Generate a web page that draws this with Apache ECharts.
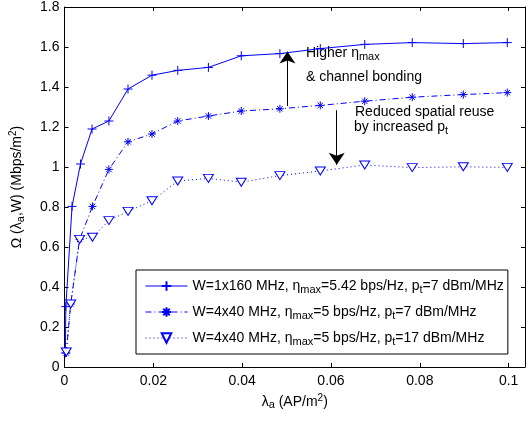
<!DOCTYPE html>
<html><head><meta charset="utf-8">
<script src="https://cdn.jsdelivr.net/npm/echarts@6/dist/echarts.min.js"></script>
<style>html,body{margin:0;padding:0;background:#fff}#c{width:528px;height:422px}</style>
</head><body><div id="c"></div>
<script>
// ---- data ----
const xTicks = [0, 0.02, 0.04, 0.06, 0.08, 0.1];
const yTicks = [0, 0.2, 0.4, 0.6, 0.8, 1, 1.2, 1.4, 1.6, 1.8];
const lambda1 = [0.0002, 0.0003, 0.0017, 0.0036, 0.0062, 0.0100, 0.0143, 0.0197, 0.0255, 0.0324, 0.0398, 0.0485, 0.0576, 0.0676, 0.0783, 0.0898, 0.0997];
const omega1  = [0.070, 0.302, 0.803, 1.015, 1.190, 1.230, 1.390, 1.459, 1.483, 1.498, 1.556, 1.567, 1.592, 1.613, 1.622, 1.617, 1.622];
const lambda23 = [0.0004, 0.0014, 0.0034, 0.0063, 0.0100, 0.0143, 0.0197, 0.0255, 0.0324, 0.0398, 0.0485, 0.0576, 0.0676, 0.0783, 0.0898, 0.0997];
const omega2  = [0.070, 0.315, 0.638, 0.803, 0.988, 1.126, 1.165, 1.230, 1.255, 1.280, 1.291, 1.308, 1.329, 1.349, 1.362, 1.372];
const omega3  = [0.075, 0.315, 0.638, 0.649, 0.732, 0.778, 0.831, 0.930, 0.943, 0.924, 0.957, 0.980, 1.010, 0.997, 1.001, 0.998];
const seriesNames = ['s1', 's2', 's3'];
const legendLabels = {
  s1: 'W=1x160 MHz, η{sub|max}=5.42 bps/Hz, p{sub|t}=7 dBm/MHz',
  s2: 'W=4x40 MHz, η{sub|max}=5 bps/Hz, p{sub|t}=7 dBm/MHz',
  s3: 'W=4x40 MHz, η{sub|max}=5 bps/Hz, p{sub|t}=17 dBm/MHz'
};
const xName = 'λ{sub|a} (AP/m{sup|2})';
const yName = 'Ω (λ{sub|a},W) (Mbps/m{sup|2})';
const note1a = 'Higher η{sub|max}';
const note1b = '& channel bonding';
const note2a = 'Reduced spatial reuse';
const note2b = 'by increased p{sub|t}';
// arrows: [x, yStart, yEnd]
const arrowUp = [0.0502, 1.304, 1.577];
const arrowDown = [0.0613, 1.284, 1.011];

// ---- style ----
const FONT = 'Liberation Sans';
const BLUE = '#0000ff';
const FS = 14;
const rich = {
  sub: {fontSize: 11, fontFamily: FONT, color: '#000', fill: '#000', lineHeight: 17, padding: [7, 0, 0, 0]},
  sup: {fontSize: 10, fontFamily: FONT, color: '#000', fill: '#000', lineHeight: 17, padding: [0, 0, 7, 0]}
};
const plusPath = 'path://M0,5L10,5M5,0L5,10';
const starPath = 'path://M5,0L5,10M0,5L10,5M1.6,1.6L8.4,8.4M8.4,1.6L1.6,8.4';
const near = (v, arr) => arr.some(t => Math.abs(t - v) < 1e-9);
const fmt = v => String(+v.toFixed(2));
const zip = (a, b) => a.map((x, i) => [x, b[i]]);
const GRID_W = 466.6;
const XMAX = GRID_W / 4500;

const axisCommon = {
  axisLine: {onZero: false, lineStyle: {color: '#000', width: 1}},
  axisTick: {inside: true, length: 4, lineStyle: {color: '#000', width: 1}},
  splitLine: {show: false}
};
const nameStyle = {fontSize: FS, fontFamily: FONT, color: '#000', lineHeight: 17, rich: rich};
const labelStyle = {fontSize: FS, fontFamily: FONT, color: '#000'};
const noteStyle = t => ({text: t, fill: '#000', fontSize: FS, fontFamily: FONT, verticalAlign: 'middle', lineHeight: 17, rich: rich});

const chart = echarts.init(document.getElementById('c'), null, {renderer: 'canvas'});
const option = {
  animation: false,
  backgroundColor: '#fff',
  grid: {left: 62, top: 5, width: GRID_W, height: 362, containLabel: false},
  xAxis: [
    Object.assign({type: 'value', min: 0, max: XMAX, interval: 0.02, position: 'bottom',
      axisLabel: Object.assign({margin: 7, formatter: v => near(v, xTicks) ? fmt(v) : ''}, labelStyle),
      name: xName, nameLocation: 'middle', nameGap: 21, nameTextStyle: nameStyle}, axisCommon),
    Object.assign({type: 'value', min: 0, max: XMAX, interval: 0.02, position: 'top',
      axisLabel: {show: false}}, axisCommon)
  ],
  yAxis: [
    Object.assign({type: 'value', min: 0, max: 1.8, interval: 0.2, position: 'left',
      axisLabel: Object.assign({margin: 5, formatter: v => near(v, yTicks) ? fmt(v) : ''}, labelStyle),
      name: yName, nameLocation: 'middle', nameRotate: 90, nameGap: 39, nameTextStyle: nameStyle}, axisCommon),
    Object.assign({type: 'value', min: 0, max: 1.8, interval: 0.2, position: 'right',
      axisLabel: {show: false}}, axisCommon)
  ],
  legend: {
    orient: 'vertical', left: 136, top: 270,
    padding: [7, 4, 7, 9], itemGap: 8, itemWidth: 42, itemHeight: 12,
    backgroundColor: '#fff', borderColor: '#000', borderWidth: 1, borderRadius: 0,
    data: seriesNames,
    formatter: n => legendLabels[n],
    lineStyle: {width: 1},
    textStyle: {fontSize: FS, fontFamily: FONT, color: '#000', lineHeight: 17, rich: rich}
  },
  series: [
    {name: seriesNames[0], type: 'line', data: zip(lambda1, omega1),
      symbol: plusPath, symbolSize: 9,
      lineStyle: {color: BLUE, width: 1, type: 'solid'},
      itemStyle: {color: BLUE, borderColor: BLUE, borderWidth: 1},
      markLine: {silent: true, symbol: ['none', 'arrow'], symbolSize: 12,
        lineStyle: {color: '#000', width: 1, type: 'solid'}, label: {show: false},
        data: [
          [{coord: [arrowUp[0], arrowUp[1]]}, {coord: [arrowUp[0], arrowUp[2]]}],
          [{coord: [arrowDown[0], arrowDown[1]]}, {coord: [arrowDown[0], arrowDown[2]]}]
        ]}
    },
    {name: seriesNames[1], type: 'line', data: zip(lambda23, omega2),
      symbol: starPath, symbolSize: 8,
      lineStyle: {color: BLUE, width: 1, type: [6, 3, 1, 3]},
      itemStyle: {color: BLUE, borderColor: BLUE, borderWidth: 1}
    },
    {name: seriesNames[2], type: 'line', data: zip(lambda23, omega3),
      symbol: 'triangle', symbolRotate: 180, symbolSize: [10, 8],
      lineStyle: {color: BLUE, width: 1, type: [1, 3]},
      itemStyle: {color: '#fff', borderColor: BLUE, borderWidth: 1}
    }
  ],
  graphic: [
    {type: 'text', x: 306, y: 53.5, silent: true, style: noteStyle(note1a)},
    {type: 'text', x: 306, y: 77, silent: true, style: noteStyle(note1b)},
    {type: 'text', x: 355, y: 112, silent: true, style: noteStyle(note2a)},
    {type: 'text', x: 354, y: 127, silent: true, style: noteStyle(note2b)}
  ]
};
chart.setOption(option);
</script></body></html>
